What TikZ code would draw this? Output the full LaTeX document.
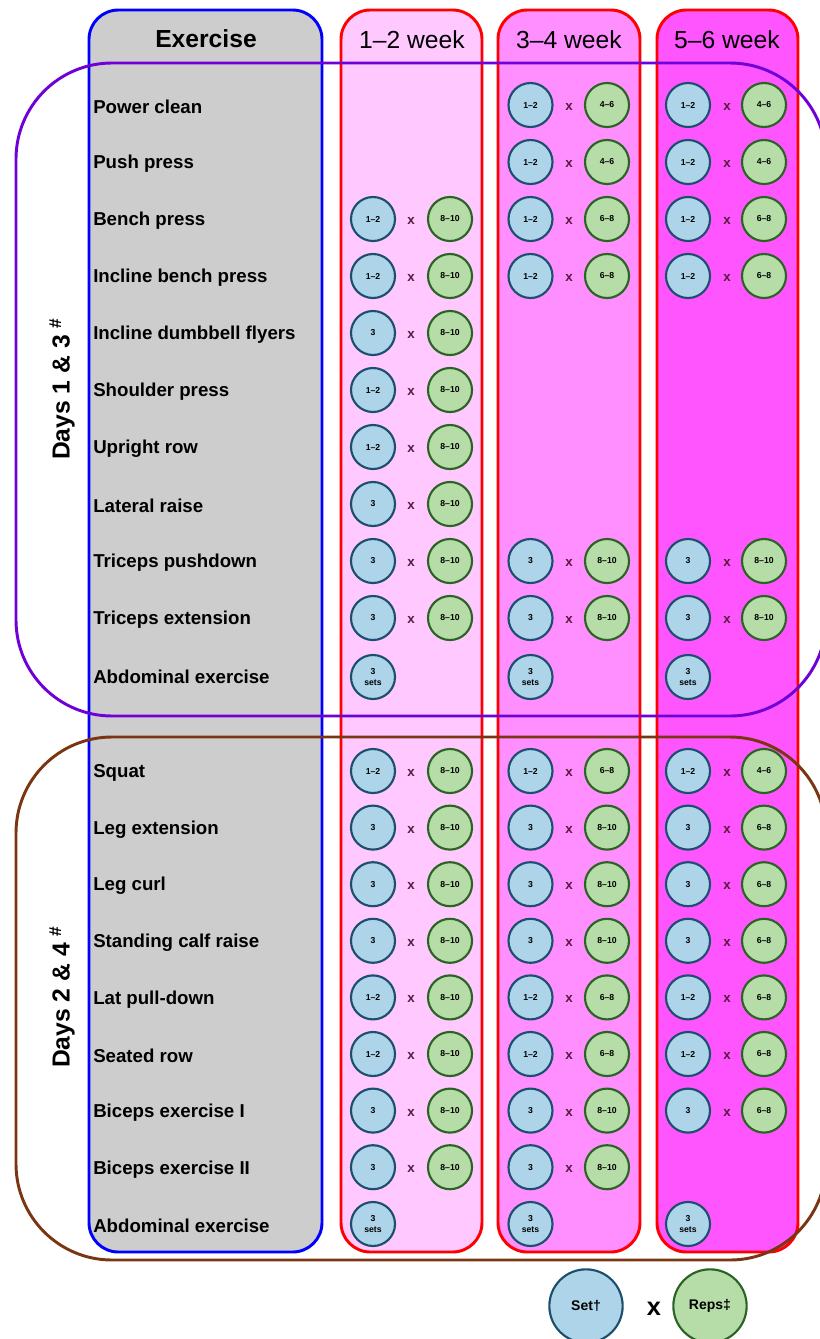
\documentclass[tikz,border=0pt]{standalone}
\usepackage{fontspec}
\setmainfont{Liberation Sans}
\definecolor{exgray}{HTML}{CDCDCD}
\definecolor{pinkA}{HTML}{FFC8FF}
\definecolor{pinkB}{HTML}{FF8EFF}
\definecolor{pinkC}{HTML}{FF55FF}
\definecolor{setfill}{HTML}{AED4EA}
\definecolor{setdraw}{HTML}{1C4E6E}
\definecolor{repfill}{HTML}{B6DCA8}
\definecolor{repdraw}{HTML}{2B6324}
\definecolor{grpA}{HTML}{7000D8}
\definecolor{grpB}{HTML}{7A3512}
\definecolor{xcol}{HTML}{5A1A40}
\begin{document}
\begin{tikzpicture}[x=0.75pt,y=-0.75pt,
  colbox/.style={draw=red, line width=2.2pt, rounded corners=22pt},
  exbox/.style={draw=blue, fill=exgray, line width=2.2pt, rounded corners=22pt},
  grpbox/.style={line width=2.2pt, rounded corners=72pt},
  setc/.style={circle, draw=setdraw, fill=setfill, line width=1.6pt, minimum size=33pt, inner sep=0pt, font=\bfseries\fontsize{6.5}{8.5}\selectfont, align=center},
  repc/.style={circle, draw=repdraw, fill=repfill, line width=1.6pt, minimum size=33pt, inner sep=0pt, font=\bfseries\fontsize{6.5}{8.5}\selectfont},
  xmark/.style={font=\bfseries\fontsize{10}{12}\selectfont, text=xcol, inner sep=0pt},
  exname/.style={anchor=west, font=\bfseries\fontsize{14}{16}\selectfont, inner sep=0pt},
  head/.style={font=\fontsize{18.5}{20}\selectfont},
  days/.style={rotate=90, font=\bfseries\fontsize{18.5}{20}\selectfont},
  legc/.style={circle, line width=1.6pt, minimum size=55pt, inner sep=0pt, font=\bfseries\fontsize{10.5}{12}\selectfont}]
\useasboundingbox (0,0) rectangle (819,1339);
% columns
\draw[exbox] (89,10) rectangle (322,1252);
\draw[colbox, fill=pinkA] (341,10) rectangle (482,1252);
\draw[colbox, fill=pinkB] (498,10) rectangle (640,1252);
\draw[colbox, fill=pinkC] (657,10) rectangle (798,1252);
% group frames
\draw[grpbox, draw=grpA] (16,63) rectangle (826,716);
\draw[grpbox, draw=grpB] (16,737) rectangle (826,1260);
% headers
\node[head, font=\bfseries\fontsize{18.5}{20}\selectfont] (hEx) at (206,39) {Exercise};
\node[head] (h1) at (412,40) {1--2 week};
\node[head] (h2) at (569,40) {3--4 week};
\node[head] (h3) at (727,40) {5--6 week};
% day labels
\node[days] (dA) at (62,389) {Days 1 \& 3 \textsuperscript{\#}};
\node[days] (dB) at (62,997) {Days 2 \& 4 \textsuperscript{\#}};
% exercise names
\foreach \n [count=\i from 0] in {Power clean, Push press, Bench press, Incline bench press, Incline dumbbell flyers, Shoulder press, Upright row, Lateral raise, Triceps pushdown, Triceps extension, Abdominal exercise}
  \node[exname] (eA\i) at (93,{107+57*\i}) {\n};
\foreach \n [count=\i from 0] in {Squat, Leg extension, Leg curl, Standing calf raise, Lat pull-down, Seated row, Biceps exercise I, Biceps exercise II, Abdominal exercise}
  \node[exname] (eB\i) at (93,{773+56.6*\i}) {\n};
% section A set x reps
\foreach \c/\r/\s/\p in {0/2/1--2/8--10, 0/3/1--2/8--10, 0/4/3/8--10, 0/5/1--2/8--10, 0/6/1--2/8--10, 0/7/3/8--10, 0/8/3/8--10, 0/9/3/8--10,
  1/0/1--2/4--6, 1/1/1--2/4--6, 1/2/1--2/6--8, 1/3/1--2/6--8, 1/8/3/8--10, 1/9/3/8--10,
  2/0/1--2/4--6, 2/1/1--2/4--6, 2/2/1--2/6--8, 2/3/1--2/6--8, 2/8/3/8--10, 2/9/3/8--10}{
  \node[setc] (sA\c-\r) at ({373+157.5*\c},{105+57*\r}) {\s};
  \node[xmark] (xA\c-\r) at ({411+158*\c},{107+57*\r}) {x};
  \node[repc] (rA\c-\r) at ({450+157*\c},{105+57*\r}) {\p};
}
\foreach \c in {0,1,2}
  \node[setc] (sA\c-10) at ({373+157.5*\c},677) {3\\sets};
% section B set x reps
\foreach \c/\r/\s/\p in {0/0/1--2/8--10, 0/1/3/8--10, 0/2/3/8--10, 0/3/3/8--10, 0/4/1--2/8--10, 0/5/1--2/8--10, 0/6/3/8--10, 0/7/3/8--10,
  1/0/1--2/6--8, 1/1/3/8--10, 1/2/3/8--10, 1/3/3/8--10, 1/4/1--2/6--8, 1/5/1--2/6--8, 1/6/3/8--10, 1/7/3/8--10,
  2/0/1--2/4--6, 2/1/3/6--8, 2/2/3/6--8, 2/3/3/6--8, 2/4/1--2/6--8, 2/5/1--2/6--8, 2/6/3/6--8}{
  \node[setc] (sB\c-\r) at ({373+157.5*\c},{771+56.6*\r}) {\s};
  \node[xmark] (xB\c-\r) at ({411+158*\c},{773+56.6*\r}) {x};
  \node[repc] (rB\c-\r) at ({450+157*\c},{771+56.6*\r}) {\p};
}
\foreach \c in {0,1,2}
  \node[setc] (sB\c-8) at ({373+157.5*\c},1224) {3\\sets};
% legend
\node[legc, draw=setdraw, fill=setfill] (lSet) at (586,1306) {Set†};
\node[font=\bfseries\fontsize{19}{20}\selectfont, inner sep=0pt] (lX) at (654,1309) {x};
\node[legc, draw=repdraw, fill=repfill] (lRep) at (710,1306) {Reps‡};
\end{tikzpicture}
\end{document}
